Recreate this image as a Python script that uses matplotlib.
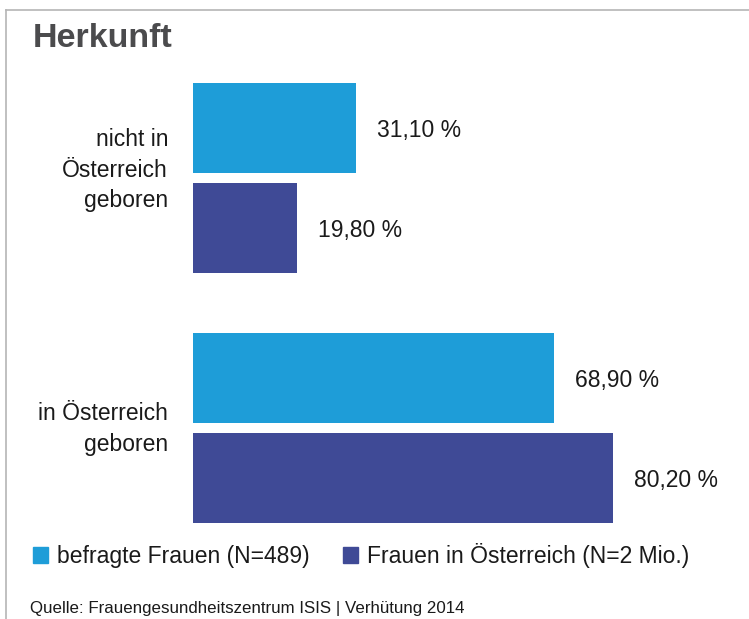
import matplotlib
matplotlib.use("Agg")
import matplotlib.pyplot as plt
from matplotlib.patches import Rectangle
from matplotlib.lines import Line2D
import numpy as np

categories = ["nicht in\nÖsterreich\ngeboren", "in Österreich\ngeboren"]
series_names = ["befragte Frauen (N=489)", "Frauen in Österreich (N=2 Mio.)"]
befragte = [31.10, 68.90]
oesterreich = [19.80, 80.20]
colors = ["#1e9dd8", "#3f4a96"]
title = "Herkunft"
source = "Quelle: Frauengesundheitszentrum ISIS | Verhütung 2014"

plt.rcParams['font.family'] = ['Liberation Sans', 'DejaVu Sans']

W, H = 749, 619
fig = plt.figure(figsize=(W / 100, H / 100), dpi=100)

def fx(px):
    return px / W

def fy(py):
    return 1 - py / H

# axes: x from 193 px to right edge; y from 83 px to 523 px
ax_left, ax_right = 193, 749
ax_top, ax_bot = 83, 523
ax = fig.add_axes([fx(ax_left), fy(ax_bot), (ax_right - ax_left) / W, (ax_bot - ax_top) / H])
px_per_unit = 163 / 31.1
ax.set_xlim(0, (ax_right - ax_left) / px_per_unit)

group_pos = np.array([0.0, 2.5])
bh = 0.9
offs = 0.5
ax.set_ylim(3.45, -0.95)

series = [befragte, oesterreich]
for i, (vals, col) in enumerate(zip(series, colors)):
    ypos = group_pos + (-offs if i == 0 else offs)
    ax.barh(ypos, vals, height=bh, color=col, edgecolor='none')
    for y, v in zip(ypos, vals):
        ax.annotate(f"{v:.2f} %".replace(".", ","), xy=(v, y + 0.02), xytext=(15, 0),
                    textcoords="offset points", ha="left", va="center",
                    fontsize=16.5, color="#1a1a1a")

ax.set_yticks(group_pos - np.array([0.14, 0.05]))
ax.set_yticklabels(categories, fontsize=16.5, color="#1a1a1a", ha="right",
                   linespacing=1.42)
ax.tick_params(axis='y', length=0, pad=18)
ax.tick_params(axis='x', length=0, labelbottom=False)
for s in ax.spines.values():
    s.set_visible(False)
ax.patch.set_alpha(0)

# title
fig.text(fx(33), fy(47), title, fontsize=24.5, fontweight='bold', color="#4b4b4d",
         ha='left', va='baseline')

# legend
leg_x = [33, 343]
for lx, name, col in zip(leg_x, series_names, colors):
    fig.patches.append(Rectangle((fx(lx), fy(563)), 15 / W, 16 / H,
                                 transform=fig.transFigure, color=col))
    fig.text(fx(lx + 24), fy(556), name, fontsize=16.5, color="#1a1a1a",
             ha='left', va='center')

# source
fig.text(fx(30), fy(608), source, fontsize=12.2, color="#1a1a1a",
         ha='left', va='center')

# frame lines
fig.lines.append(Line2D([fx(6), 1], [fy(10), fy(10)], transform=fig.transFigure,
                        color="#b5b5b5", lw=1.2))
fig.lines.append(Line2D([fx(6), fx(6)], [fy(10), 0], transform=fig.transFigure,
                        color="#b5b5b5", lw=1.2))

fig.savefig("out.png", dpi=100)
